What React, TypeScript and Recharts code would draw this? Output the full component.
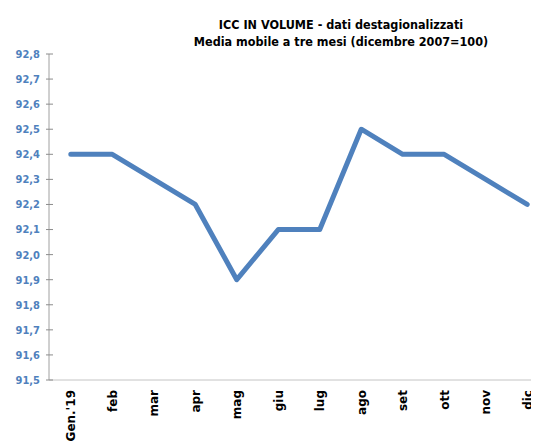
import React from 'react';
import { LineChart, Line, XAxis, YAxis } from 'recharts';

const months = ["Gen.'19", 'feb', 'mar', 'apr', 'mag', 'giu', 'lug', 'ago', 'set', 'ott', 'nov', 'dic'];
const iccValues = [92.4, 92.4, 92.3, 92.2, 91.9, 92.1, 92.1, 92.5, 92.4, 92.4, 92.3, 92.2];
const yTicks = [91.5, 91.6, 91.7, 91.8, 91.9, 92.0, 92.1, 92.2, 92.3, 92.4, 92.5, 92.6, 92.7, 92.8];
const titleLines = ['ICC IN VOLUME - dati destagionalizzati', 'Media mobile a tre mesi (dicembre 2007=100)'];

const BLUE = '#4F81BD';
const FONT = '"DejaVu Sans Condensed", "DejaVu Sans", sans-serif';

const data = months.map((m, i) => ({ month: m, value: iccValues[i] }));

// y ticks: label in blue + small tick crossing the axis line
const YTick = (props: any) => {
    const { x, y, payload } = props;
    return (
        <g>
            <line x1={x - 3} x2={x + 4} y1={y} y2={y} stroke="#8c8c8c" strokeWidth={1} />
            <text x={x - 9} y={y} dy="0.36em" textAnchor="end" fill={BLUE} fontSize={11} fontWeight="bold" fontFamily={FONT}>
                {payload.value.toFixed(1).replace('.', ',')}
            </text>
        </g>
    );
};

// month labels are written vertically, reading upwards
const XTick = (props: any) => {
    const { x, y, payload } = props;
    return (
        <g transform={`translate(${x},${y + 10})`}>
            <text transform="rotate(-90)" textAnchor="end" dy="0.36em" fill="#000" fontSize={12} fontWeight="bold" fontFamily='"DejaVu Sans", sans-serif'>
                {payload.value}
            </text>
        </g>
    );
};

export default function App() {
    return (
        <div style={{ position: 'relative', width: 531, height: 435, overflow: 'hidden' }}>
            <LineChart width={541} height={435} data={data} margin={{ top: 46, right: 0, bottom: 0, left: 0 }}>
                <XAxis
                    dataKey="month"
                    interval={0}
                    padding={{ left: 21.8, right: 21.8 }}
                    height={63}
                    tickLine={false}
                    tickSize={0}
                    tickMargin={0}
                    axisLine={{ stroke: '#c4c4c4' }}
                    tick={<XTick />}
                />
                <YAxis
                    domain={[91.5, 92.8]}
                    ticks={yTicks}
                    interval={0}
                    width={41}
                    tickLine={false}
                    tickSize={0}
                    tickMargin={0}
                    axisLine={{ stroke: '#a0a0a0' }}
                    tick={<YTick />}
                />
                <Line
                    type="linear"
                    dataKey="value"
                    stroke={BLUE}
                    strokeWidth={5}
                    strokeLinecap="round"
                    strokeLinejoin="round"
                    dot={false}
                    activeDot={false}
                    isAnimationActive={false}
                />
            </LineChart>
            <svg width={531} height={50} style={{ position: 'absolute', left: 0, top: 0 }}>
                {titleLines.map((t, i) => (
                    <text key={i} x={333} y={21 + i * 17} textAnchor="middle" fontSize={12.5} fontWeight="bold" fontFamily={FONT} fill="#000">
                        {t}
                    </text>
                ))}
            </svg>
        </div>
    );
}
